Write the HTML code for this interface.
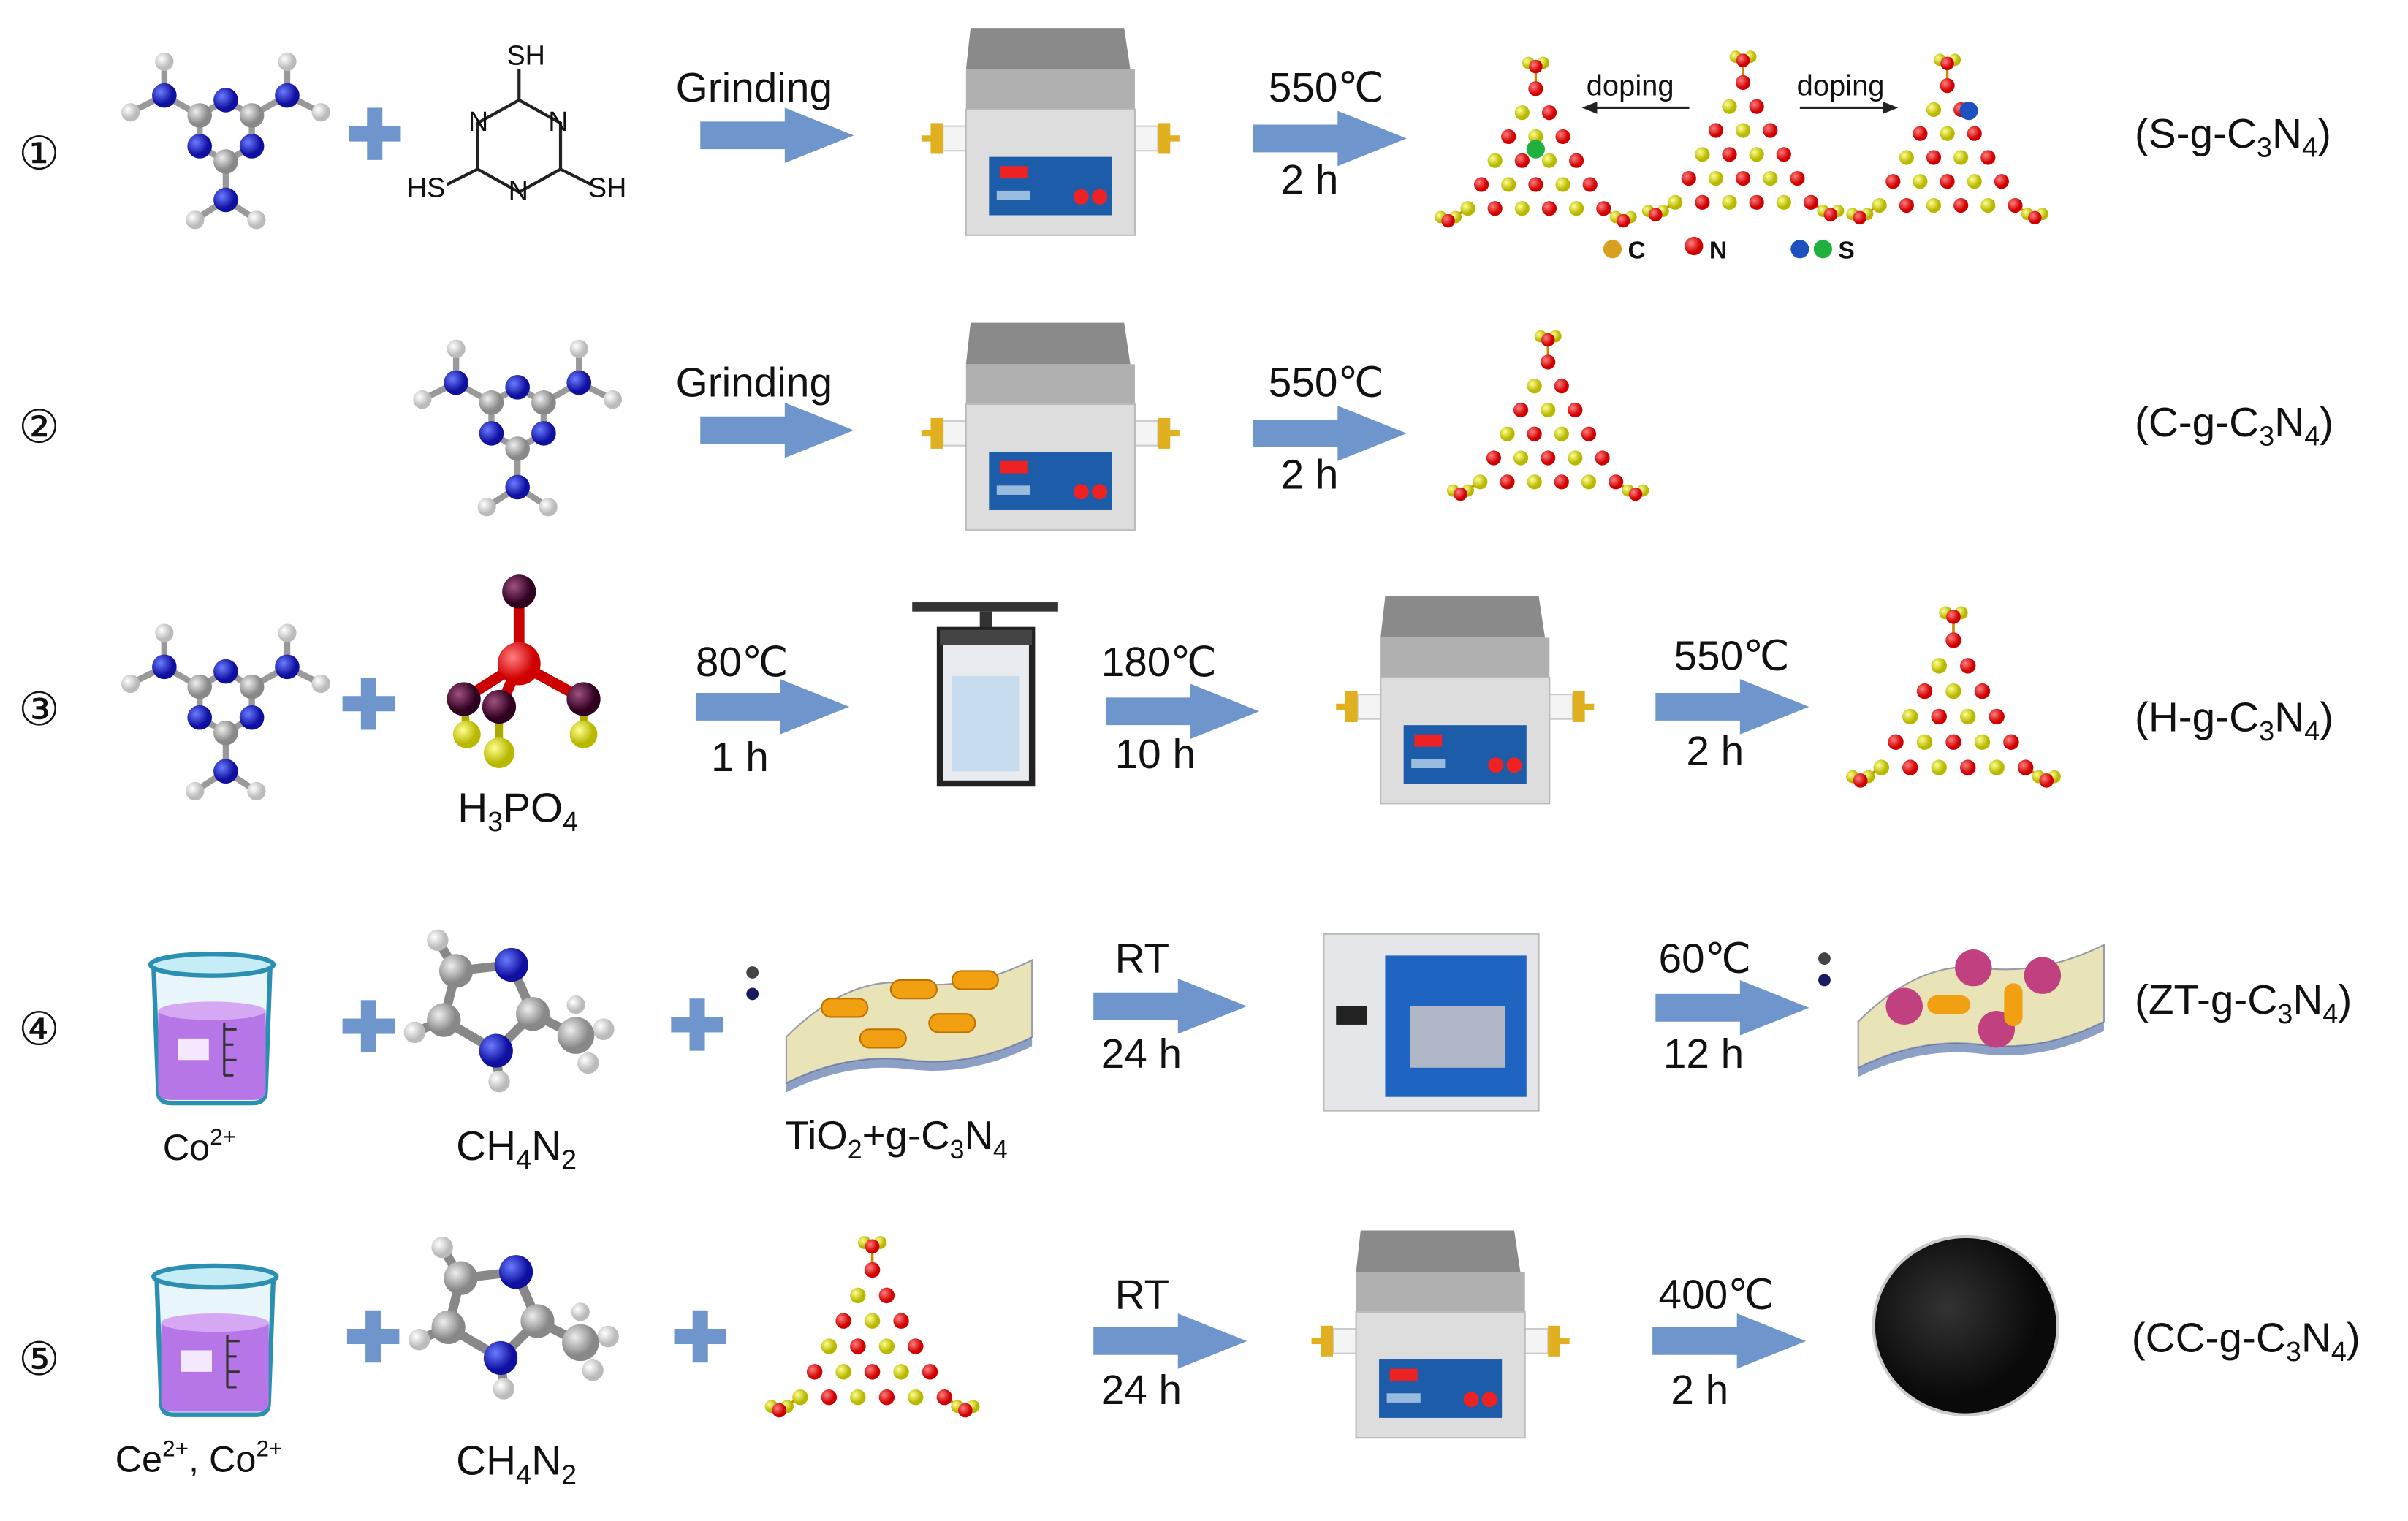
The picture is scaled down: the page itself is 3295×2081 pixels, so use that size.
<!DOCTYPE html>
<html><head><meta charset="utf-8"><style>
html,body{margin:0;padding:0;background:#fff}
svg{display:block}
text{font-family:"Liberation Sans",sans-serif;fill:#111}
</style></head><body>
<svg id="s" width="3295" height="2081" viewBox="0 0 1568 990" xmlns="http://www.w3.org/2000/svg">
<defs>
<radialGradient id="gb" cx="35%" cy="35%"><stop offset="0" stop-color="#6a7cff"/><stop offset="1" stop-color="#1010a0"/></radialGradient>
<radialGradient id="gg" cx="35%" cy="35%"><stop offset="0" stop-color="#eee"/><stop offset="1" stop-color="#888"/></radialGradient>
<radialGradient id="gw" cx="35%" cy="35%"><stop offset="0" stop-color="#fff"/><stop offset="1" stop-color="#bbb"/></radialGradient>
<radialGradient id="gr" cx="35%" cy="35%"><stop offset="0" stop-color="#ff8080"/><stop offset="1" stop-color="#d00000"/></radialGradient>
<radialGradient id="gy" cx="35%" cy="35%"><stop offset="0" stop-color="#ffff90"/><stop offset="1" stop-color="#b8b800"/></radialGradient>
<radialGradient id="gd" cx="35%" cy="35%"><stop offset="0" stop-color="#a05080"/><stop offset="1" stop-color="#300020"/></radialGradient>
<radialGradient id="gk" cx="40%" cy="40%"><stop offset="0" stop-color="#333"/><stop offset="1" stop-color="#0a0a0a"/></radialGradient>
<g id="arrow"><polygon points="0,-9 55,-9 55,-18 100,0 55,18 55,9 0,9" fill="#6f96cc"/></g>
<g id="plus"><rect x="-17" y="-5" width="34" height="10" fill="#6f96cc"/><rect x="-5" y="-17" width="10" height="34" fill="#6f96cc"/></g>
<g id="mel">
 <g stroke="#999" stroke-width="4">
  <line x1="0" y1="-20" x2="17" y2="-10"/><line x1="17" y1="-10" x2="17" y2="10"/><line x1="17" y1="10" x2="0" y2="20"/><line x1="0" y1="20" x2="-17" y2="10"/><line x1="-17" y1="10" x2="-17" y2="-10"/><line x1="-17" y1="-10" x2="0" y2="-20"/>
  <line x1="17" y1="-10" x2="40" y2="-23"/><line x1="-17" y1="-10" x2="-40" y2="-23"/><line x1="0" y1="20" x2="0" y2="45"/>
  <line x1="40" y1="-23" x2="40" y2="-45"/><line x1="40" y1="-23" x2="62" y2="-12"/>
  <line x1="-40" y1="-23" x2="-40" y2="-45"/><line x1="-40" y1="-23" x2="-62" y2="-12"/>
  <line x1="0" y1="45" x2="-20" y2="58"/><line x1="0" y1="45" x2="20" y2="58"/>
 </g>
 <circle cx="40" cy="-45" r="6" fill="url(#gw)"/><circle cx="62" cy="-12" r="6" fill="url(#gw)"/><circle cx="-40" cy="-45" r="6" fill="url(#gw)"/><circle cx="-62" cy="-12" r="6" fill="url(#gw)"/><circle cx="-20" cy="58" r="6" fill="url(#gw)"/><circle cx="20" cy="58" r="6" fill="url(#gw)"/>
 <circle cx="40" cy="-23" r="8" fill="url(#gb)"/><circle cx="-40" cy="-23" r="8" fill="url(#gb)"/><circle cx="0" cy="45" r="8" fill="url(#gb)"/>
 <circle cx="0" cy="-20" r="8" fill="url(#gb)"/><circle cx="17" cy="10" r="8" fill="url(#gb)"/><circle cx="-17" cy="10" r="8" fill="url(#gb)"/>
 <circle cx="17" cy="-10" r="8" fill="url(#gg)"/><circle cx="-17" cy="-10" r="8" fill="url(#gg)"/><circle cx="0" cy="20" r="8" fill="url(#gg)"/>
</g>
<g id="furn">
 <rect x="-70" y="-8" width="30" height="16" fill="#f4f4f4" stroke="#ccc"/><rect x="40" y="-8" width="30" height="16" fill="#f4f4f4" stroke="#ccc"/>
 <rect x="-78" y="-10" width="8" height="20" fill="#e0b020"/><rect x="70" y="-10" width="8" height="20" fill="#e0b020"/>
 <rect x="-84" y="-2" width="8" height="4" fill="#e0b020"/><rect x="76" y="-2" width="8" height="4" fill="#e0b020"/>
 <polygon points="-52,-72 48,-72 52,-45 -55,-45" fill="#8a8a8a"/>
 <rect x="-55" y="-45" width="110" height="26" fill="#b0b0b0"/>
 <rect x="-55" y="-19" width="110" height="82" fill="#ddd" stroke="#bbb"/>
 <rect x="-40" y="12" width="80" height="38" fill="#1d5ca8"/>
 <rect x="-33" y="18" width="18" height="8" fill="#e22"/>
 <circle cx="20" cy="38" r="5" fill="#e22"/><circle cx="32" cy="38" r="5" fill="#e22"/>
 <rect x="-35" y="34" width="22" height="6" fill="#9bd"/>
</g>
<g id="beaker">
 <path d="M-38,-42 L38,-42 L35,40 Q35,48 27,48 L-27,48 Q-35,48 -35,40 Z" fill="#e8f6fb" stroke="#2a8fb0" stroke-width="3"/>
 <ellipse cx="0" cy="-42" rx="40" ry="7" fill="#c6ecf5" stroke="#2a8fb0" stroke-width="3"/>
 <path d="M-35,-12 L35,-12 L35,40 Q35,46 27,46 L-27,46 Q-35,46 -35,40 Z" fill="#b676e8"/>
 <ellipse cx="0" cy="-12" rx="35" ry="6" fill="#d6a8f4"/>
 <rect x="-22" y="6" width="20" height="14" fill="#f4e8ff"/>
 <g stroke="#333" stroke-width="1.5"><line x1="8" y1="-4" x2="8" y2="30"/><line x1="8" y1="0" x2="16" y2="0"/><line x1="8" y1="10" x2="14" y2="10"/><line x1="8" y1="20" x2="16" y2="20"/><line x1="8" y1="30" x2="14" y2="30"/></g>
</g>
<g id="imid">
 <g stroke="#888" stroke-width="6"><polygon points="-28,-30 8,-34 22,-2 -2,22 -36,2" fill="none"/><line x1="22" y1="-2" x2="50" y2="12"/><line x1="-36" y1="2" x2="-55" y2="10"/><line x1="-28" y1="-30" x2="-40" y2="-50"/><line x1="-2" y1="22" x2="0" y2="42"/></g>
 <circle cx="-40" cy="-50" r="7" fill="url(#gw)"/><circle cx="-55" cy="10" r="7" fill="url(#gw)"/><circle cx="0" cy="42" r="7" fill="url(#gw)"/>
 <circle cx="68" cy="8" r="7" fill="url(#gw)"/><circle cx="58" cy="30" r="7" fill="url(#gw)"/><circle cx="50" cy="-8" r="6" fill="url(#gw)"/>
 <circle cx="-28" cy="-30" r="11" fill="url(#gg)"/><circle cx="-36" cy="2" r="11" fill="url(#gg)"/><circle cx="22" cy="-2" r="11" fill="url(#gg)"/><circle cx="50" cy="12" r="12" fill="url(#gg)"/>
 <circle cx="8" cy="-34" r="11" fill="url(#gb)"/><circle cx="-2" cy="22" r="11" fill="url(#gb)"/>
</g>
<g id="sheet">
 <path d="M-80,10 Q-40,-30 0,-25 Q40,-20 80,-40 L80,10 Q40,30 0,25 Q-40,20 -80,40 Z" fill="#e8e4b8" stroke="#99a" />
 <g fill="#4060a0" opacity=".6"><path d="M-80,40 Q-40,20 0,25 Q40,30 80,10 L80,16 Q40,36 0,31 Q-40,26 -80,46 Z"/></g>
</g>
</defs>
<rect width="1568" height="990" fill="#fff"/>
<g font-size="30">
<text x="12" y="110">①</text><text x="12" y="288">②</text><text x="12" y="472">③</text><text x="12" y="680">④</text><text x="12" y="895">⑤</text>
</g>
<!-- Row 1 -->
<use href="#mel" x="147" y="85"/>
<use href="#plus" x="244" y="87"/>
<g stroke="#222" stroke-width="2" fill="none"><polygon points="338,65 365,80 365,110 338,125 311,110 311,80"/><line x1="338" y1="65" x2="338" y2="45"/><line x1="365" y1="110" x2="385" y2="120"/><line x1="311" y1="110" x2="291" y2="120"/></g>
<g font-size="18"><text x="330" y="42">SH</text><text x="265" y="128">HS</text><text x="383" y="128">SH</text><text x="305" y="85">N</text><text x="357" y="85">N</text><text x="331" y="130">N</text></g>
<text x="440" y="66" font-size="27">Grinding</text>
<use href="#arrow" x="456" y="88"/>
<use href="#furn" x="684" y="90"/>
<use href="#arrow" x="816" y="90"/>
<text x="826" y="66" font-size="27">550℃</text><text x="834" y="126" font-size="27">2 h</text>
<text x="1033" y="62" font-size="19">doping</text><text x="1170" y="62" font-size="19">doping</text>
<line x1="1100" y1="70" x2="1035" y2="70" stroke="#222" stroke-width="1.5"/><polygon points="1030,70 1040,66 1040,74" fill="#222"/>
<line x1="1172" y1="70" x2="1230" y2="70" stroke="#222" stroke-width="1.5"/><polygon points="1236,70 1226,66 1226,74" fill="#222"/>
<circle cx="1050" cy="162" r="6" fill="#d8a020"/><text x="1060" y="168" font-size="16" font-weight="bold">C</text>
<circle cx="1103" cy="160" r="6" fill="url(#gr)"/><text x="1113" y="168" font-size="16" font-weight="bold">N</text>
<circle cx="1172" cy="162" r="6" fill="#1e50c0"/><circle cx="1187" cy="162" r="6" fill="#20b040"/><text x="1197" y="168" font-size="16" font-weight="bold">S</text>
<text x="1390" y="96" font-size="27">(S-g-C<tspan font-size="18" dy="6">3</tspan><tspan dy="-6">N</tspan><tspan font-size="18" dy="6">4</tspan><tspan dy="-6">)</tspan></text>
<!-- Row 2 -->
<use href="#mel" x="337" y="272"/>
<text x="440" y="258" font-size="27">Grinding</text>
<use href="#arrow" x="456" y="280"/>
<use href="#furn" x="684" y="282"/>
<use href="#arrow" x="816" y="282"/>
<text x="826" y="258" font-size="27">550℃</text><text x="834" y="318" font-size="27">2 h</text>
<text x="1390" y="284" font-size="27">(C-g-C<tspan font-size="18" dy="6">3</tspan><tspan dy="-6">N</tspan><tspan font-size="18" dy="6">4</tspan><tspan dy="-6">)</tspan></text>
<!-- Row 3 -->
<use href="#mel" x="147" y="457"/>
<use href="#plus" x="240" y="458"/>
<g stroke="#c00" stroke-width="7"><line x1="338" y1="432" x2="338" y2="385"/><line x1="338" y1="432" x2="302" y2="455"/><line x1="338" y1="432" x2="380" y2="455"/><line x1="338" y1="432" x2="325" y2="462"/></g>
<g stroke="#aa0" stroke-width="5"><line x1="302" y1="455" x2="304" y2="478"/><line x1="380" y1="455" x2="380" y2="478"/><line x1="325" y1="462" x2="325" y2="490"/></g>
<circle cx="338" cy="432" r="14" fill="url(#gr)"/>
<circle cx="338" cy="385" r="11" fill="url(#gd)"/><circle cx="302" cy="455" r="11" fill="url(#gd)"/><circle cx="380" cy="455" r="11" fill="url(#gd)"/><circle cx="325" cy="460" r="11" fill="url(#gd)"/>
<circle cx="304" cy="478" r="9" fill="url(#gy)"/><circle cx="380" cy="478" r="9" fill="url(#gy)"/><circle cx="325" cy="490" r="10" fill="url(#gy)"/>
<text x="298" y="535" font-size="27">H<tspan font-size="18" dy="6">3</tspan><tspan dy="-6">PO</tspan><tspan font-size="18" dy="6">4</tspan></text>
<text x="453" y="440" font-size="27">80℃</text><text x="463" y="502" font-size="27">1 h</text>
<use href="#arrow" x="453" y="460"/>
<rect x="594" y="392" width="95" height="6" fill="#333"/><rect x="638" y="398" width="8" height="14" fill="#333"/>
<rect x="612" y="410" width="60" height="100" fill="#e8ecf0" stroke="#222" stroke-width="4"/>
<rect x="620" y="440" width="44" height="62" fill="#c8dcf0"/>
<rect x="612" y="410" width="60" height="10" fill="#444"/>
<text x="717" y="440" font-size="27">180℃</text><text x="726" y="500" font-size="27">10 h</text>
<use href="#arrow" x="720" y="463"/>
<use href="#furn" x="954" y="460"/>
<text x="1090" y="436" font-size="27">550℃</text><text x="1098" y="498" font-size="27">2 h</text>
<use href="#arrow" x="1078" y="460"/>
<text x="1390" y="476" font-size="27">(H-g-C<tspan font-size="18" dy="6">3</tspan><tspan dy="-6">N</tspan><tspan font-size="18" dy="6">4</tspan><tspan dy="-6">)</tspan></text>
<!-- Row 4 -->
<use href="#beaker" x="138" y="670"/>
<text x="106" y="755" font-size="24">Co<tspan font-size="15" dy="-10">2+</tspan></text>
<use href="#plus" x="240" y="668"/>
<use href="#imid" x="325" y="662"/>
<text x="297" y="755" font-size="27">CH<tspan font-size="18" dy="6">4</tspan><tspan dy="-6">N</tspan><tspan font-size="18" dy="6">2</tspan></text>
<use href="#plus" x="454" y="667"/>
<use href="#sheet" x="592" y="665"/>
<g fill="#f0a010" stroke="#c07000"><rect x="535" y="650" width="30" height="12" rx="6"/><rect x="580" y="638" width="30" height="12" rx="6"/><rect x="620" y="632" width="30" height="12" rx="6"/><rect x="560" y="670" width="30" height="12" rx="6"/><rect x="605" y="660" width="30" height="12" rx="6"/></g>
<circle cx="490" cy="633" r="4" fill="#444"/><circle cx="490" cy="647" r="4" fill="#1a1a60"/>
<text x="511" y="748" font-size="26">TiO<tspan font-size="17" dy="6">2</tspan><tspan dy="-6">+g-C</tspan><tspan font-size="17" dy="6">3</tspan><tspan dy="-6">N</tspan><tspan font-size="17" dy="6">4</tspan></text>
<text x="726" y="633" font-size="27">RT</text><text x="717" y="695" font-size="27">24 h</text>
<use href="#arrow" x="712" y="655"/>
<rect x="862" y="608" width="140" height="115" fill="#e4e6ea" stroke="#bbb"/>
<rect x="902" y="622" width="92" height="92" fill="#1e64c0"/>
<rect x="918" y="655" width="62" height="40" fill="#b0b8c8"/>
<rect x="870" y="655" width="20" height="12" fill="#222"/>
<text x="1080" y="633" font-size="27">60℃</text><text x="1083" y="695" font-size="27">12 h</text>
<use href="#arrow" x="1078" y="656"/>
<use href="#sheet" x="1290" y="655"/>
<g fill="#c04080"><circle cx="1240" cy="655" r="12"/><circle cx="1285" cy="630" r="12"/><circle cx="1330" cy="635" r="12"/><circle cx="1300" cy="670" r="12"/></g>
<g fill="#f0a010"><rect x="1255" y="648" width="28" height="12" rx="6"/><rect x="1305" y="640" width="12" height="28" rx="6"/></g>
<circle cx="1188" cy="624" r="4" fill="#444"/><circle cx="1188" cy="638" r="4" fill="#1a1a60"/>
<text x="1390" y="660" font-size="27">(ZT-g-C<tspan font-size="18" dy="6">3</tspan><tspan dy="-6">N</tspan><tspan font-size="18" dy="6">4</tspan><tspan dy="-6">)</tspan></text>
<!-- Row 5 -->
<use href="#beaker" x="140" y="873"/>
<text x="75" y="958" font-size="24">Ce<tspan font-size="15" dy="-10">2+</tspan><tspan dy="10">, Co</tspan><tspan font-size="15" dy="-10">2+</tspan></text>
<use href="#plus" x="243" y="870"/>
<use href="#imid" x="328" y="862"/>
<text x="297" y="960" font-size="27">CH<tspan font-size="18" dy="6">4</tspan><tspan dy="-6">N</tspan><tspan font-size="18" dy="6">2</tspan></text>
<use href="#plus" x="456" y="870"/>
<text x="726" y="852" font-size="27">RT</text><text x="717" y="914" font-size="27">24 h</text>
<use href="#arrow" x="712" y="873"/>
<use href="#furn" x="938" y="873"/>
<text x="1080" y="852" font-size="27">400℃</text><text x="1088" y="914" font-size="27">2 h</text>
<use href="#arrow" x="1076" y="873"/>
<ellipse cx="1280" cy="863" rx="60" ry="58" fill="url(#gk)" stroke="#ccc" stroke-width="2"/>
<text x="1388" y="880" font-size="27">(CC-g-C<tspan font-size="18" dy="6">3</tspan><tspan dy="-6">N</tspan><tspan font-size="18" dy="6">4</tspan><tspan dy="-6">)</tspan></text>
<g id="lats"></g>
</svg>
<script>
(function(){
var NS="http://www.w3.org/2000/svg",g=document.getElementById("lats");
function el(n,a){var e=document.createElementNS(NS,n);for(var k in a)e.setAttribute(k,a[k]);g.appendChild(e);return e;}
function lat(cx,top,s){
 var d=13*s,pts=[];
 for(var r=0;r<6;r++){for(var i=0;i<=r;i++){pts.push([cx+(i-r/2)*d*1.7,top+22*s+r*d*1.5,(r+i)%2]);}}
 var stems=[[cx,top+22*s,cx,top+4*s],[cx-5*d*0.85,top+22*s+5*d*1.5,cx-5*d*0.85-16*s,top+22*s+5*d*1.5+10*s],[cx+5*d*0.85,top+22*s+5*d*1.5,cx+5*d*0.85+16*s,top+22*s+5*d*1.5+10*s]];
 stems.forEach(function(t){el("line",{x1:t[0],y1:t[1],x2:t[2],y2:t[3],stroke:"#c80",'stroke-width':2*s});
  el("circle",{cx:t[2]-6*s,cy:t[3]-3*s,r:5*s,fill:"url(#gy)"});el("circle",{cx:t[2]+6*s,cy:t[3]-3*s,r:5*s,fill:"url(#gy)"});el("circle",{cx:t[2],cy:t[3],r:5.5*s,fill:"url(#gr)"});});
 pts.forEach(function(p){el("circle",{cx:p[0],cy:p[1],r:6*s,fill:p[2]?"url(#gy)":"url(#gr)"});});
}
lat(1000,40,0.8);lat(1135,36,0.8);lat(1268,38,0.8);
lat(1008,218,0.8);lat(1272,398,0.85);lat(568,808,0.85);
var a=document.createElementNS(NS,"circle");a.setAttribute("cx",1000);a.setAttribute("cy",97);a.setAttribute("r",6);a.setAttribute("fill","#20b040");g.appendChild(a);
var b=document.createElementNS(NS,"circle");b.setAttribute("cx",1282);b.setAttribute("cy",72);b.setAttribute("r",6);b.setAttribute("fill","#1e50c0");g.appendChild(b);
})();
</script>
</body></html>
